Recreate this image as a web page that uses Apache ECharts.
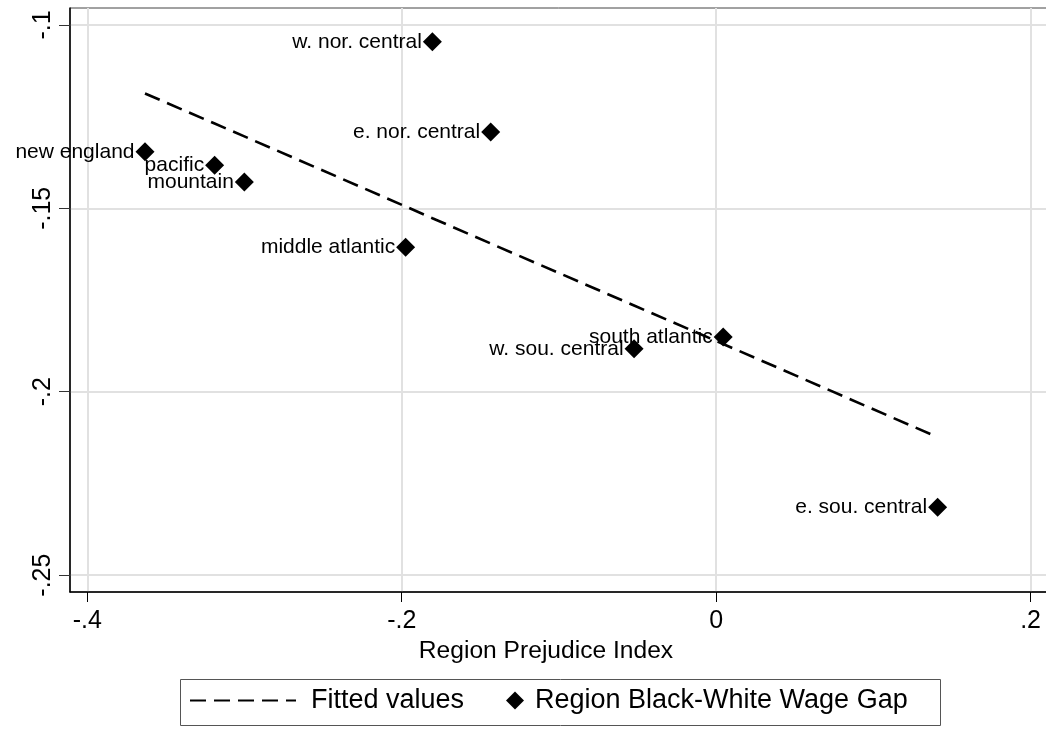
<!DOCTYPE html>
<html><head><meta charset="utf-8">
<script src="https://cdn.jsdelivr.net/npm/echarts@6/dist/echarts.min.js"></script>
<style>html,body{margin:0;padding:0;background:#fff}#c{width:1046px;height:732px}</style>
</head><body><div id="c"></div>
<script>
const regions = ['new england','pacific','mountain','middle atlantic','w. nor. central','e. nor. central','w. sou. central','south atlantic','e. sou. central'];
const prejudiceIndex = [-0.3633,-0.3190,-0.3001,-0.1975,-0.1805,-0.1434,-0.0522,0.0045,0.1409];
const wageGap = [-0.1346,-0.1383,-0.1428,-0.1606,-0.1046,-0.1292,-0.1883,-0.1851,-0.2315];
const fittedValues = [-0.1187,-0.1269,-0.1304,-0.1495,-0.1527,-0.1596,-0.1765,-0.1870,-0.2124];
const xTicks = [-0.4,-0.2,0,0.2];
const yTicks = [-0.25,-0.2,-0.15,-0.1];
const xTitle = 'Region Prejudice Index';
const lineName = 'Fitted values';
const scatterName = 'Region Black-White Wage Gap';

const FONT = '"Liberation Sans", Arial, sans-serif';
const fmt = v => String(+(+v).toFixed(3)).replace(/^(-?)0\./, '$1.');

const chart = echarts.init(document.getElementById('c'), null, {renderer: 'canvas'});
chart.setOption({
  animation: false,
  textStyle: {fontFamily: FONT, color: '#000'},
  grid: {left: 70, top: 8, width: 992, height: 584, outerBoundsMode: 'none', containLabel: false,
    show: true, borderColor: '#444', borderWidth: 1, backgroundColor: 'transparent'},
  xAxis: {
    type: 'value', min: -0.411, max: 0.22,
    axisLine: {show: true, onZero: false, lineStyle: {color: '#000', width: 1.5}},
    axisTick: {show: true, customValues: xTicks, length: 10, lineStyle: {color: '#000', width: 1}},
    axisLabel: {customValues: xTicks, formatter: fmt, fontSize: 25, margin: 17, color: '#000', fontFamily: FONT},
    splitLine: {show: true, lineStyle: {color: '#e1e1e1', width: 2}},
    name: xTitle, nameLocation: 'middle', nameGap: 47,
    nameTextStyle: {fontSize: 24.6, color: '#000', fontFamily: FONT, padding: [0, 40, 0, 0]}
  },
  yAxis: {
    type: 'value', min: -0.2546, max: -0.0954,
    axisLine: {show: true, onZero: false, lineStyle: {color: '#000', width: 1.5}},
    axisTick: {show: true, customValues: yTicks, length: 11, lineStyle: {color: '#333', width: 1}},
    axisLabel: {customValues: yTicks, formatter: fmt, fontSize: 25, margin: 14, rotate: 90, color: '#000', fontFamily: FONT},
    splitLine: {show: true, lineStyle: {color: '#e1e1e1', width: 2}}
  },
  legend: [
    {data: [lineName], left: 189, top: 687, padding: 0, itemWidth: 106, itemHeight: 14,
     itemStyle: {opacity: 0},
     textStyle: {fontSize: 27, color: '#000', fontFamily: FONT, padding: [0, 0, 0, 10]}},
    {data: [scatterName], left: 506, top: 687, padding: 0, itemWidth: 18, itemHeight: 18,
     textStyle: {fontSize: 27, color: '#000', fontFamily: FONT, padding: [0, 0, 0, 6]}}
  ],
  graphic: [{type: 'rect', left: 178, top: 677, shape: {width: 760, height: 46},
    style: {fill: 'none', stroke: '#555', lineWidth: 1}}],
  series: [
    {name: lineName, type: 'line', symbol: 'none', z: 3,
     data: prejudiceIndex.map((x, i) => [x, fittedValues[i]]),
     lineStyle: {color: '#000', width: 2.6, type: [16, 8]},
     itemStyle: {color: '#000'}},
    {name: scatterName, type: 'scatter', symbol: 'diamond', symbolSize: 19, z: 4,
     itemStyle: {color: '#000', opacity: 1},
     data: prejudiceIndex.map((x, i) => ({name: regions[i], value: [x, wageGap[i]]})),
     label: {show: true, position: 'left', distance: 1, formatter: p => p.name,
       fontSize: 21, color: '#000', opacity: 1, fontFamily: FONT}}
  ]
});
</script></body></html>
